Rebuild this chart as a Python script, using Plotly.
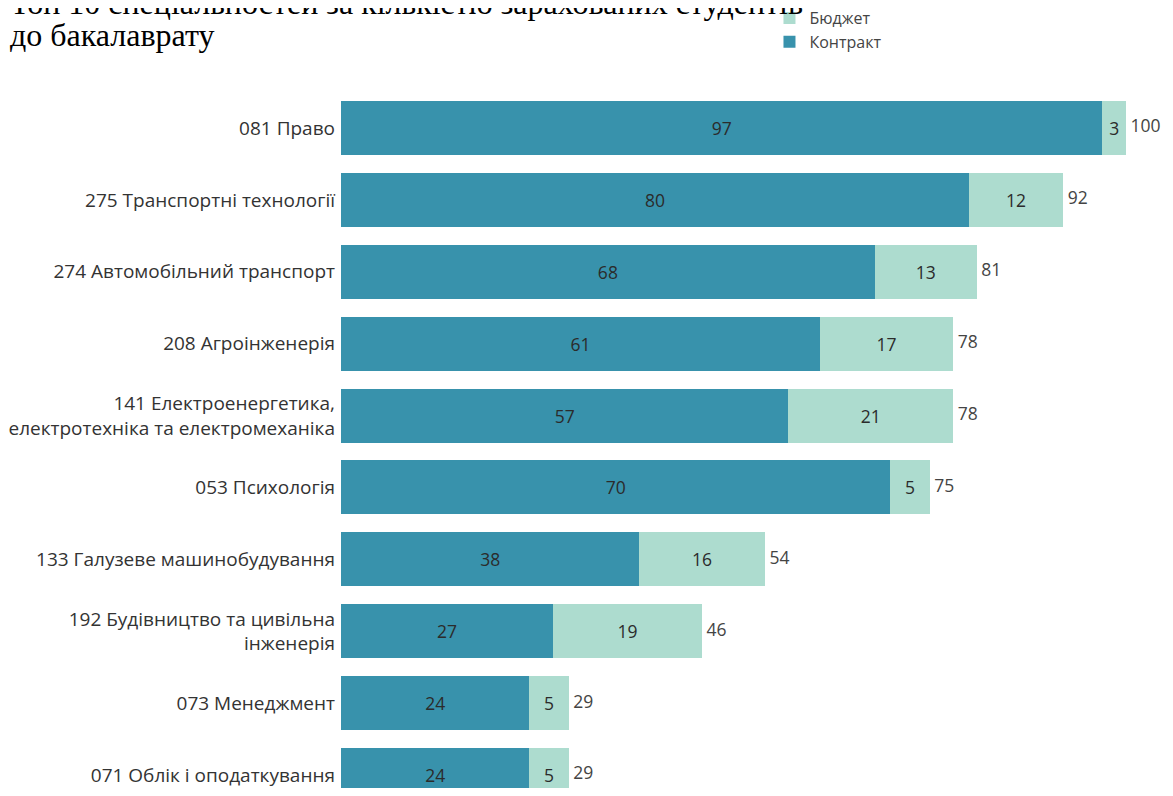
import plotly.graph_objects as go

# data, top to bottom
categories = [
    "081 Право",
    "275 Транспортні технології",
    "274 Автомобільний транспорт",
    "208 Агроінженерія",
    "141 Електроенергетика,<br>електротехніка та електромеханіка",
    "053 Психологія",
    "133 Галузеве машинобудування",
    "192 Будівництво та цивільна<br>інженерія",
    "073 Менеджмент",
    "071 Облік і оподаткування",
]
contract = [97, 80, 68, 61, 57, 70, 38, 27, 24, 24]
budget = [3, 12, 13, 17, 21, 5, 16, 19, 5, 5]
totals = [100, 92, 81, 78, 78, 75, 54, 46, 29, 29]

title_lines = ["Топ 10 спеціальностей за кількістю зарахованих студентів",
               "до бакалаврату"]

dark = "#3892AC"
light = "#ADDCCF"
font_main = "Open Sans"

fig = go.Figure()

fig.add_trace(go.Bar(
    y=categories, x=contract, orientation="h",
    name="Контракт", marker=dict(color=dark, line=dict(width=0)),
    text=contract, textposition="inside", insidetextanchor="middle",
    textangle=0, constraintext="none",
    textfont=dict(size=17.5, color="#2b2b2b", family=font_main),
    width=0.75,
))
fig.add_trace(go.Bar(
    y=categories, x=budget, orientation="h",
    name="Бюджет", marker=dict(color=light, line=dict(width=0)),
    text=budget, textposition="inside", insidetextanchor="middle",
    textangle=0, constraintext="none",
    textfont=dict(size=17.5, color="#2b2b2b", family=font_main),
    width=0.75,
))
# totals at bar ends
fig.add_trace(go.Scatter(
    y=categories, x=totals, mode="text",
    text=[f" {t}" for t in totals], textposition="middle right",
    textfont=dict(size=17.5, color="#444", family=font_main),
    showlegend=False, hoverinfo="skip", cliponaxis=False,
))

# title, two lines placed separately (tight line spacing)
# plot area is 696 px high, so 1 px = 1/696 paper units
for txt, ypos in zip(title_lines, [1.0991, 1.0532]):
    fig.add_annotation(
        text=txt, xref="paper", yref="paper", x=-0.4, y=ypos,
        xanchor="left", yanchor="bottom", align="left", showarrow=False,
        font=dict(family="Liberation Serif", size=32, color="black"),
    )

fig.update_layout(
    width=1165, height=780,
    margin=dict(l=333, r=0, t=84, b=0),
    barmode="stack",
    plot_bgcolor="white", paper_bgcolor="white",
    legend=dict(
        x=0.515, y=0.9718, xanchor="left", yanchor="middle",
        yref="container",
        traceorder="reversed",
        font=dict(family=font_main, size=16, color="#444"),
        itemwidth=30, tracegroupgap=0,
    ),
    xaxis=dict(range=[0, 106], visible=False, fixedrange=True),
    yaxis=dict(
        range=[9.18, -0.5],
        showgrid=False, zeroline=False, showline=False, ticks="",
        tickfont=dict(family=font_main, size=19, color="#333"),
        ticklabelstandoff=5,
    ),
)

fig.write_html("out.html")
